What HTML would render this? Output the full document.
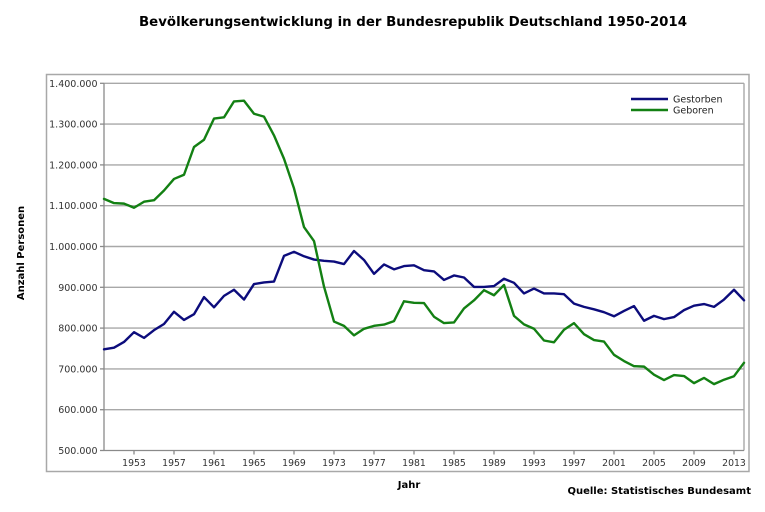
<!DOCTYPE html>
<html><head><meta charset="utf-8"><style>
html,body{margin:0;padding:0;background:#fff;}
svg{display:block;}
text{font-family:"DejaVu Sans","Liberation Sans",sans-serif;}
</style></head><body>
<svg width="765" height="512" viewBox="0 0 765 512" xmlns="http://www.w3.org/2000/svg">
<rect x="0" y="0" width="765" height="512" fill="#fff"/>
<text x="413" y="26" text-anchor="middle" font-size="13" font-weight="bold" fill="#000" textLength="548" lengthAdjust="spacingAndGlyphs">Bevölkerungsentwicklung in der Bundesrepublik Deutschland 1950-2014</text>
<rect x="46.5" y="74.5" width="702.5" height="397" fill="none" stroke="#a8a8a8" stroke-width="1.5"/>
<g stroke="#a8a8a8" stroke-width="1.4">
<line x1="104" y1="83.3" x2="744" y2="83.3"/>
<line x1="104" y1="124.1" x2="744" y2="124.1"/>
<line x1="104" y1="164.9" x2="744" y2="164.9"/>
<line x1="104" y1="205.7" x2="744" y2="205.7"/>
<line x1="104" y1="246.5" x2="744" y2="246.5"/>
<line x1="104" y1="287.3" x2="744" y2="287.3"/>
<line x1="104" y1="328.1" x2="744" y2="328.1"/>
<line x1="104" y1="368.9" x2="744" y2="368.9"/>
<line x1="104" y1="409.7" x2="744" y2="409.7"/>
<line x1="744" y1="83.3" x2="744" y2="450.5"/>
</g>
<g stroke="#8a8a8a" stroke-width="1.3">
<line x1="104" y1="83.3" x2="104" y2="450.5"/>
<line x1="104" y1="450.5" x2="744" y2="450.5"/>
<line x1="100" y1="83.3" x2="104" y2="83.3"/>
<line x1="100" y1="124.1" x2="104" y2="124.1"/>
<line x1="100" y1="164.9" x2="104" y2="164.9"/>
<line x1="100" y1="205.7" x2="104" y2="205.7"/>
<line x1="100" y1="246.5" x2="104" y2="246.5"/>
<line x1="100" y1="287.3" x2="104" y2="287.3"/>
<line x1="100" y1="328.1" x2="104" y2="328.1"/>
<line x1="100" y1="368.9" x2="104" y2="368.9"/>
<line x1="100" y1="409.7" x2="104" y2="409.7"/>
<line x1="100" y1="450.5" x2="104" y2="450.5"/>
<line x1="134" y1="450.5" x2="134" y2="454.5"/>
<line x1="174" y1="450.5" x2="174" y2="454.5"/>
<line x1="214" y1="450.5" x2="214" y2="454.5"/>
<line x1="254" y1="450.5" x2="254" y2="454.5"/>
<line x1="294" y1="450.5" x2="294" y2="454.5"/>
<line x1="334" y1="450.5" x2="334" y2="454.5"/>
<line x1="374" y1="450.5" x2="374" y2="454.5"/>
<line x1="414" y1="450.5" x2="414" y2="454.5"/>
<line x1="454" y1="450.5" x2="454" y2="454.5"/>
<line x1="494" y1="450.5" x2="494" y2="454.5"/>
<line x1="534" y1="450.5" x2="534" y2="454.5"/>
<line x1="574" y1="450.5" x2="574" y2="454.5"/>
<line x1="614" y1="450.5" x2="614" y2="454.5"/>
<line x1="654" y1="450.5" x2="654" y2="454.5"/>
<line x1="694" y1="450.5" x2="694" y2="454.5"/>
<line x1="734" y1="450.5" x2="734" y2="454.5"/>
</g>
<g font-size="9.5" fill="#333" text-anchor="end">
<text x="97.5" y="86.8">1.400.000</text>
<text x="97.5" y="127.6">1.300.000</text>
<text x="97.5" y="168.4">1.200.000</text>
<text x="97.5" y="209.2">1.100.000</text>
<text x="97.5" y="250">1.000.000</text>
<text x="97.5" y="290.8">900.000</text>
<text x="97.5" y="331.6">800.000</text>
<text x="97.5" y="372.4">700.000</text>
<text x="97.5" y="413.2">600.000</text>
<text x="97.5" y="454">500.000</text>
</g>
<g font-size="9.3" fill="#333" text-anchor="middle">
<text x="134" y="466">1953</text>
<text x="174" y="466">1957</text>
<text x="214" y="466">1961</text>
<text x="254" y="466">1965</text>
<text x="294" y="466">1969</text>
<text x="334" y="466">1973</text>
<text x="374" y="466">1977</text>
<text x="414" y="466">1981</text>
<text x="454" y="466">1985</text>
<text x="494" y="466">1989</text>
<text x="534" y="466">1993</text>
<text x="574" y="466">1997</text>
<text x="614" y="466">2001</text>
<text x="654" y="466">2005</text>
<text x="694" y="466">2009</text>
<text x="734" y="466">2013</text>
</g>
<text transform="translate(24,253) rotate(-90)" text-anchor="middle" font-size="10" font-weight="bold" fill="#000">Anzahl Personen</text>
<text x="409" y="488" text-anchor="middle" font-size="10" font-weight="bold" fill="#000">Jahr</text>
<text x="751" y="494" text-anchor="end" font-size="10" font-weight="bold" fill="#000">Quelle: Statistisches Bundesamt</text>
<g transform="matrix(10 0 0 -0.408 104 654.5)" fill="none" stroke-linejoin="round" stroke-linecap="round">
<polyline vector-effect="non-scaling-stroke" stroke="#0c0c7c" stroke-width="2.4" points="0,748 1,752 2,766 3,790 4,776 5,795 6,810 7,840 8,820 9,834 10,876 11,851 12,879 13,894 14,870 15,908 16,912 17,914 18,977 19,987 20,976 21,968 22,965 23,963 24,957 25,989 26,967 27,933 28,956 29,944 30,952 31,954 32,942 33,939 34,918 35,929 36,924 37,901 38,901 39,903 40,921 41,911 42,885 43,897 44,885 45,885 46,883 47,860 48,852 49,846 50,839 51,829 52,842 53,854 54,818 55,830 56,822 57,827 58,844 59,855 60,859 61,852 62,870 63,894 64,868"/>
<polyline vector-effect="non-scaling-stroke" stroke="#138013" stroke-width="2.4" points="0,1116.7 1,1106.4 2,1105.1 3,1095.0 4,1109.7 5,1113.4 6,1137.2 7,1165.6 8,1175.9 9,1243.9 10,1261.6 11,1313.5 12,1316.5 13,1355.6 14,1357.3 15,1325.4 16,1318.3 17,1272.3 18,1215.0 19,1142.4 20,1047.7 21,1013.4 22,901.7 23,816.0 24,805.5 25,782.3 26,798.3 27,805.5 28,808.6 29,817.2 30,865.8 31,862.1 32,861.3 33,827.9 34,812.3 35,813.8 36,848.2 37,868.0 38,893.0 39,880.5 40,905.7 41,830.0 42,809.1 43,798.4 44,769.6 45,765.2 46,796.0 47,812.2 48,785.0 49,770.7 50,767.0 51,734.5 52,719.3 53,706.7 54,705.6 55,685.8 56,672.7 57,684.9 58,682.5 59,665.1 60,677.9 61,662.7 62,673.5 63,682.1 64,714.9"/>
</g>
<line x1="631" y1="99" x2="668" y2="99" stroke="#0c0c7c" stroke-width="2.4"/>
<line x1="631" y1="110" x2="668" y2="110" stroke="#138013" stroke-width="2.4"/>
<text x="673" y="102.6" font-size="9.5" fill="#222">Gestorben</text>
<text x="673" y="113.6" font-size="9.5" fill="#222">Geboren</text>
</svg>
</body></html>
